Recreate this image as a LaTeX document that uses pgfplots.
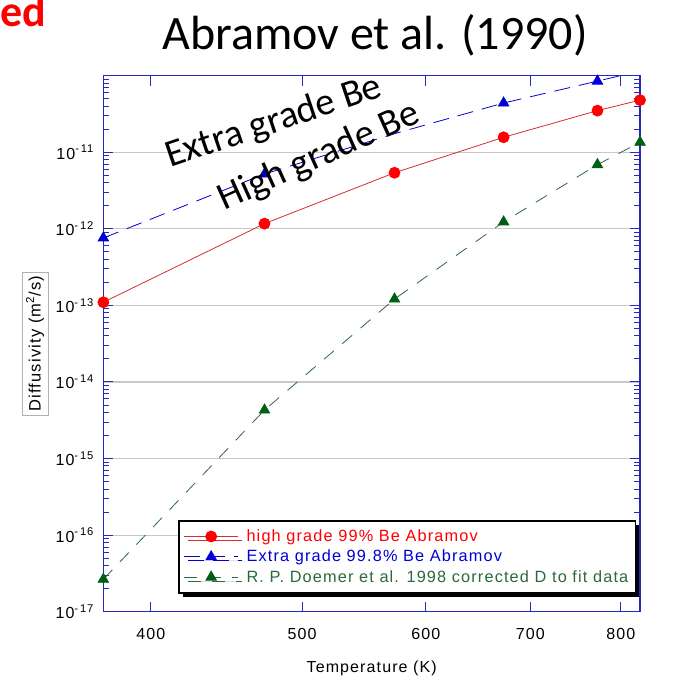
\documentclass[border=0pt]{standalone}
\usepackage{fontspec}
\setmainfont{Liberation Sans}
\newfontfamily\spf{Liberation Sans}[LetterSpace=7]
\newfontfamily\calibri{Carlito}
\usepackage{pgfplots}
\pgfplotsset{compat=1.18}
\usetikzlibrary{shadows}
\definecolor{axblue}{RGB}{40,40,190}
\definecolor{sred}{RGB}{255,0,0}
\definecolor{lred}{RGB}{215,45,45}
\definecolor{sblue}{RGB}{0,0,215}
\definecolor{sgreen}{RGB}{0,95,20}
\definecolor{lgreen}{RGB}{45,105,60}
\definecolor{gridgray}{RGB}{200,200,200}

\begin{document}
\begin{tikzpicture}[x=1pt,y=1pt]
\useasboundingbox (0,0) rectangle (677,680);
\begin{axis}[
  at={(103.3pt,68.3pt)}, anchor=south west,
  scale only axis, width=536.7pt, height=536pt,
  xmode=log, ymode=log,
  xmin=373, xmax=823, ymin=1e-17, ymax=1e-10,
  xtick={400,500,600,700,800},
  xticklabels={400,500,600,700,800},
  minor xtick={},
  ytick={1e-17,1e-16,1e-15,1e-14,1e-13,1e-12,1e-11,1e-10},
  yticklabels={10\textsuperscript{-\,17},10\textsuperscript{-\,16},10\textsuperscript{-\,15},10\textsuperscript{-\,14},10\textsuperscript{-\,13},10\textsuperscript{-\,12},10\textsuperscript{-\,11},{}},
  tick align=inside,
  axis line style={axblue, line width=1.2pt},
  every tick/.style={axblue, line width=1pt},
  major tick length=10pt, minor tick length=6pt,
  ymajorgrids, grid style={gridgray, line width=1.1pt},
  ticklabel style={font=\spf\fontsize{16}{19}\selectfont},
  yticklabel style={xshift=-6pt},
  xticklabel style={yshift=-13pt},
  xlabel={Temperature (K)},
  ylabel={Diffusivity (m\textsuperscript{2}/s)},
  xlabel style={font=\spf\fontsize{16}{19}\selectfont, yshift=-14pt},
  ylabel style={font=\spf\fontsize{16.5}{19}\selectfont, draw=gray!60, line width=0.6pt, inner sep=4pt, yshift=4pt},
  legend style={at={(0.139,0.171)}, anchor=north west, draw=black, line width=1.6pt, fill=white,
    font=\spf\fontsize{16.3}{19}\selectfont, inner xsep=5pt, inner ysep=7pt, row sep=3pt, column sep=6pt,
    drop shadow={shadow xshift=4pt, shadow yshift=-4pt, fill=black, opacity=1}},
  legend cell align=left,
  legend image code/.code={\draw (0pt,0pt) -- (54pt,0pt); \draw plot coordinates {(27pt,0pt)};},
]
\addplot[lred, line width=0.8pt, mark=*, mark size=5.5pt, mark options={fill=sred, draw=sred, solid}]
  coordinates {(373,1.10e-13) (473,1.17e-12) (573,5.4e-12) (673,1.57e-11) (773,3.5e-11) (823,4.8e-11)};
\addlegendentry{\textcolor{sred}{high grade 99\%  Be Abramov}}
\addplot[sblue, line width=0.8pt, dash pattern=on 16pt off 9pt, mark=triangle*, mark size=6pt, mark options={fill=sblue, draw=sblue, solid}, mark indices={1,2,4,5}]
  coordinates {(373,7.6e-13) (473,5.2e-12) (573,1.75e-11) (673,4.4e-11) (773,8.5e-11) (823,1.15e-10)};
\addlegendentry{\textcolor{sblue}{Extra grade 99.8\% Be Abramov}}
\addplot[lgreen, line width=0.8pt, dash pattern=on 13pt off 11pt, mark=triangle*, mark size=6pt, mark options={fill=sgreen, draw=sgreen, solid}]
  coordinates {(373,2.65e-17) (473,4.3e-15) (573,1.21e-13) (673,1.23e-12) (773,6.9e-12) (823,1.35e-11)};
\addlegendentry{\textcolor{lgreen}{R. P. Doemer et al. 1998 corrected D to fit data}}
\end{axis}
\node[anchor=base, font=\calibri\fontsize{48}{52}\selectfont, inner sep=0pt] at (375,630) {Abramov et al. (1990)};
\node[anchor=base west, text=red, font=\calibri\bfseries\fontsize{44}{48}\selectfont, inner sep=0pt] at (0,653) {ed};
\node[anchor=base west, rotate=18.6, font=\calibri\fontsize{38.5}{42}\selectfont, inner sep=0pt] at (170,512) {Extra grade Be};
\node[anchor=base west, rotate=24.3, font=\calibri\fontsize{38.5}{42}\selectfont, inner sep=0pt] at (224,469) {High grade Be};
\end{tikzpicture}
\end{document}
